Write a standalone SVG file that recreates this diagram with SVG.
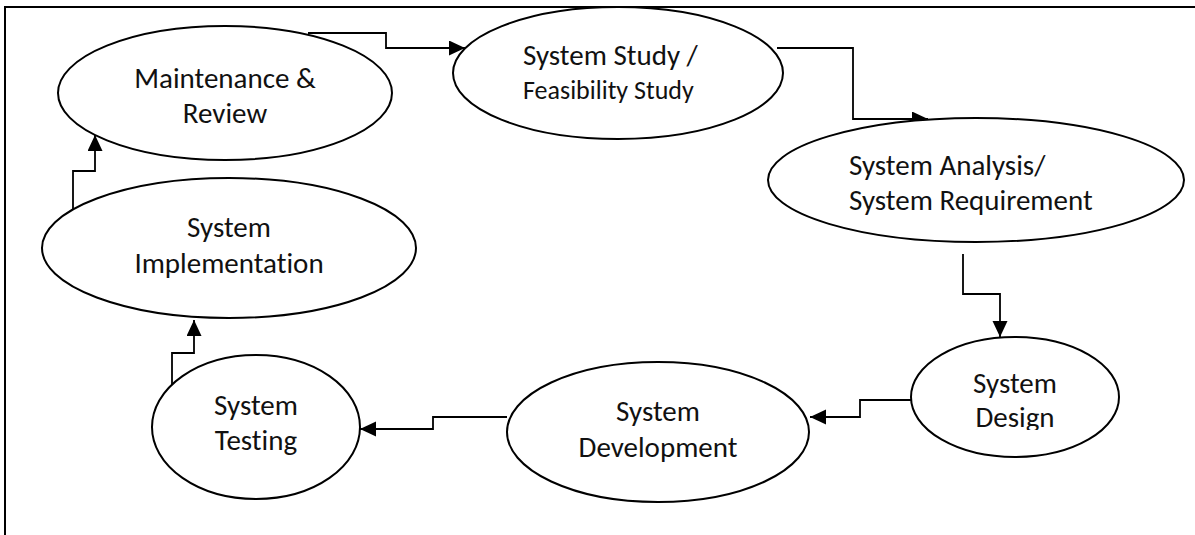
<svg xmlns="http://www.w3.org/2000/svg" width="1195" height="535" viewBox="0 0 1195 535">
<style>
.node ellipse{fill:#fff;stroke:#000;stroke-width:2}
.lbl{font-family:Carlito,Lato,"Liberation Sans",sans-serif;font-size:29px;fill:#111;font-variant-ligatures:none}
.sm{font-size:26px}
.mid{text-anchor:middle}
#connectors path{fill:none;stroke:#000;stroke-width:1.8;marker-end:url(#ah)}
</style>
<defs>
<marker id="ah" markerUnits="userSpaceOnUse" markerWidth="17" markerHeight="16" refX="16" refY="7.5" orient="auto">
<path d="M0,0 L16,7.5 L0,15 Z" fill="#000"/>
</marker>
<clipPath id="designClip"><rect x="900" y="330" width="230" height="100"/></clipPath>
</defs>
<rect width="1195" height="535" fill="#fff"/>
<path d="M5,540 V7 H1200" fill="none" stroke="#000" stroke-width="2"/>
<g id="connectors">
<path d="M308,33 H386 V48 H465"/>
<path d="M777,48 H853 V119 H928"/>
<path d="M963,254 V294 H1000 V337"/>
<path d="M911,400 H860 V417 H810"/>
<path d="M507,417 H433 V429 H360"/>
<path d="M172,387 V353 H194 V320"/>
<path d="M73,209 V171 H95 V135"/>
</g>
<g id="maintenance" class="node">
<ellipse cx="225" cy="93" rx="167" ry="67"/>
<text class="lbl mid" x="225" y="88">Maintenance &amp;</text>
<text class="lbl mid" x="225" y="123">Review</text>
</g>
<g id="study" class="node">
<ellipse cx="618" cy="73" rx="165" ry="66"/>
<text class="lbl" x="523" y="65">System Study /</text>
<text class="lbl sm" x="523" y="99">Feasibility Study</text>
</g>
<g id="analysis" class="node">
<ellipse cx="976" cy="180" rx="208" ry="62"/>
<text class="lbl" x="849" y="175">System Analysis/</text>
<text class="lbl" x="849" y="210">System Requirement</text>
</g>
<g id="design" class="node">
<ellipse cx="1015" cy="397" rx="104" ry="60"/>
<g clip-path="url(#designClip)">
<text class="lbl mid" x="1015" y="393">System</text>
<text class="lbl mid" x="1015" y="427">Design</text>
</g>
</g>
<g id="development" class="node">
<ellipse cx="658" cy="432" rx="151" ry="70"/>
<text class="lbl mid" x="658" y="421">System</text>
<text class="lbl mid" x="658" y="457">Development</text>
</g>
<g id="testing" class="node">
<ellipse cx="256" cy="427" rx="104" ry="72"/>
<text class="lbl mid" x="256" y="415">System</text>
<text class="lbl mid" x="256" y="450">Testing</text>
</g>
<g id="implementation" class="node">
<ellipse cx="229" cy="248" rx="187" ry="70"/>
<text class="lbl mid" x="229" y="237">System</text>
<text class="lbl mid" x="229" y="273">Implementation</text>
</g>
</svg>
